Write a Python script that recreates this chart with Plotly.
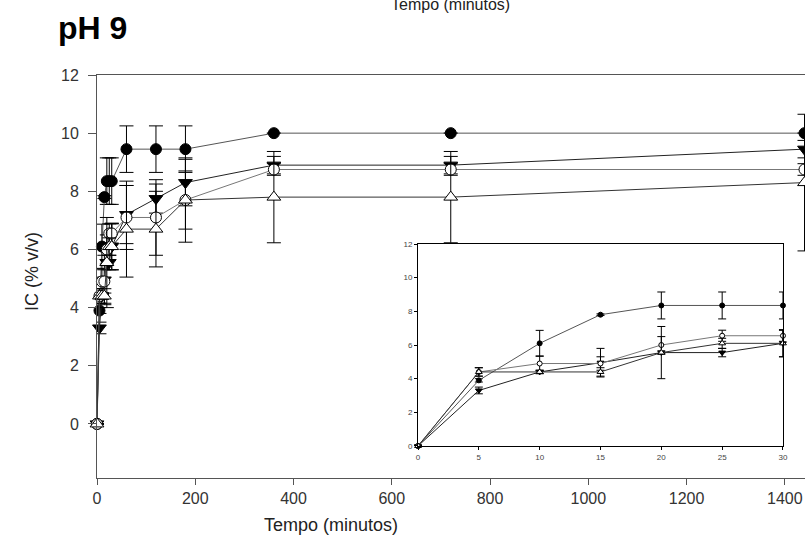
import plotly.graph_objects as go

# ---- data ----
times = [0, 5, 10, 15, 20, 25, 30, 60, 120, 180, 360, 720, 1440]

circ_fill = [0, 3.9, 6.1, 7.8, 8.35, 8.35, 8.35, 9.45, 9.45, 9.45, 10.0, 10.0, 10.0]
circ_fill_err = [0, 0.1, 0.77, 0.05, 0.8, 0.8, 0.8, 0.8, 0.8, 0.8, 0.0, 0.0, 0.0]

tri_down = [0, 3.3, 4.4, 4.95, 5.55, 5.55, 6.1, 7.2, 7.75, 8.3, 8.9, 8.9, 9.45]
tri_down_err = [0, 0.2, 0.1, 0.85, 0.1, 0.25, 0.8, 1.0, 0.5, 0.8, 0.3, 0.3, 0.3]

circ_open = [0, 4.4, 4.9, 4.9, 6.0, 6.55, 6.55, 7.1, 7.1, 7.7, 8.75, 8.75, 8.75]
circ_open_err = [0, 0.25, 0.45, 0.4, 0.5, 0.33, 0.33, 1.1, 1.3, 1.0, 0.2, 0.2, 0.2]

tri_up = [0, 4.4, 4.4, 4.4, 5.55, 6.1, 6.1, 6.7, 6.7, 7.7, 7.8, 7.8, 8.3]
tri_up_err = [0, 0.25, 0.1, 0.25, 1.55, 0.3, 0.8, 1.65, 1.3, 1.45, 1.57, 1.57, 2.35]

main_xticks = [0, 200, 400, 600, 800, 1000, 1200, 1400]
main_yticks = [0, 2, 4, 6, 8, 10, 12]
inset_xticks = [0, 5, 10, 15, 20, 25, 30]
inset_yticks = [0, 2, 4, 6, 8, 10, 12]
n_inset = 7

series = [
    ("filled circle", circ_fill, circ_fill_err, "circle", "black", "#555555", 11, 5),
    ("filled triangle", tri_down, tri_down_err, "triangle-down", "black", "#222222", 12, 6),
    ("open circle", circ_open, circ_open_err, "circle", "white", "#777777", 11, 5),
    ("open triangle", tri_up, tri_up_err, "triangle-up", "white", "#333333", 12, 6),
]

fig = go.Figure()

for name, ys, es, sym, fill, lcol, msize, isize in series:
    fig.add_trace(go.Scatter(
        x=times, y=ys, mode="lines+markers", name=name,
        line=dict(color=lcol, width=1),
        marker=dict(symbol=sym, size=msize, color=fill, line=dict(color="black", width=1)),
        error_y=dict(type="data", array=es, visible=True, color="black", thickness=1, width=7),
        cliponaxis=False, showlegend=False, xaxis="x", yaxis="y",
    ))

for name, ys, es, sym, fill, lcol, msize, isize in series:
    fig.add_trace(go.Scatter(
        x=times[:n_inset], y=ys[:n_inset], mode="lines+markers", name=name,
        line=dict(color=lcol, width=1),
        marker=dict(symbol=sym, size=isize, color=fill, line=dict(color="black", width=1)),
        error_y=dict(type="data", array=es[:n_inset], visible=True, color="black", thickness=1, width=4),
        cliponaxis=False, showlegend=False, xaxis="x2", yaxis="y2",
    ))

axfont = dict(family="Liberation Sans, Arial, sans-serif", size=16, color="#333333")
infont = dict(family="Liberation Sans, Arial, sans-serif", size=8, color="#444444")

fig.update_layout(
    template="none",
    width=805, height=545,
    margin=dict(l=97, r=0, t=75, b=67, autoexpand=False),
    paper_bgcolor="white", plot_bgcolor="white",
    xaxis=dict(range=[0, 1441], tickvals=main_xticks, showgrid=False, zeroline=False,
               showline=True, linecolor="#555555", linewidth=1, mirror=True,
               ticks="outside", ticklen=6, tickcolor="#555555", tickfont=axfont,
               domain=[0, 1], automargin=False),
    yaxis=dict(range=[-1.86, 12], tickvals=main_yticks, showgrid=False, zeroline=False,
               showline=True, linecolor="#555555", linewidth=1, mirror=True,
               ticks="outside", ticklen=8, tickcolor="#555555", tickfont=axfont,
               ticklabelstandoff=6, domain=[0, 1], automargin=False),
    xaxis2=dict(range=[0, 30], tickvals=inset_xticks, showgrid=False, zeroline=False,
                showline=True, linecolor="black", linewidth=1, mirror=True,
                ticks="outside", ticklen=3, tickcolor="black", tickfont=infont,
                domain=[0.4534, 0.9689], anchor="y2", automargin=False),
    yaxis2=dict(range=[0, 12], tickvals=inset_yticks, showgrid=False, zeroline=False,
                showline=True, linecolor="black", linewidth=1, mirror=True,
                ticks="outside", ticklen=3, tickcolor="black", tickfont=infont,
                domain=[0.0794, 0.5806], anchor="x2", automargin=False),
    annotations=[
        dict(text="<b>pH 9</b>", xref="paper", yref="paper", x=-0.058, y=1.116,
             xanchor="left", yanchor="middle", showarrow=False,
             font=dict(family="Liberation Sans, Arial, sans-serif", size=32, color="black")),
        dict(text="Tempo (minutos)", xref="paper", yref="paper", x=0.3305, y=-0.1166,
             xanchor="center", yanchor="middle", showarrow=False,
             font=dict(family="Liberation Sans, Arial, sans-serif", size=18, color="#222222")),
        dict(text="Tempo (minutos)", xref="paper", yref="paper", x=0.4986, y=1.149,
             xanchor="center", yanchor="bottom", showarrow=False,
             font=dict(family="Liberation Sans, Arial, sans-serif", size=16, color="#222222")),
        dict(text="IC (% v/v)", xref="paper", yref="paper", x=-0.0918, y=0.511,
             xanchor="center", yanchor="middle", textangle=-90, showarrow=False,
             font=dict(family="Liberation Sans, Arial, sans-serif", size=18, color="#222222")),
    ],
)

fig.write_html("out.html")
